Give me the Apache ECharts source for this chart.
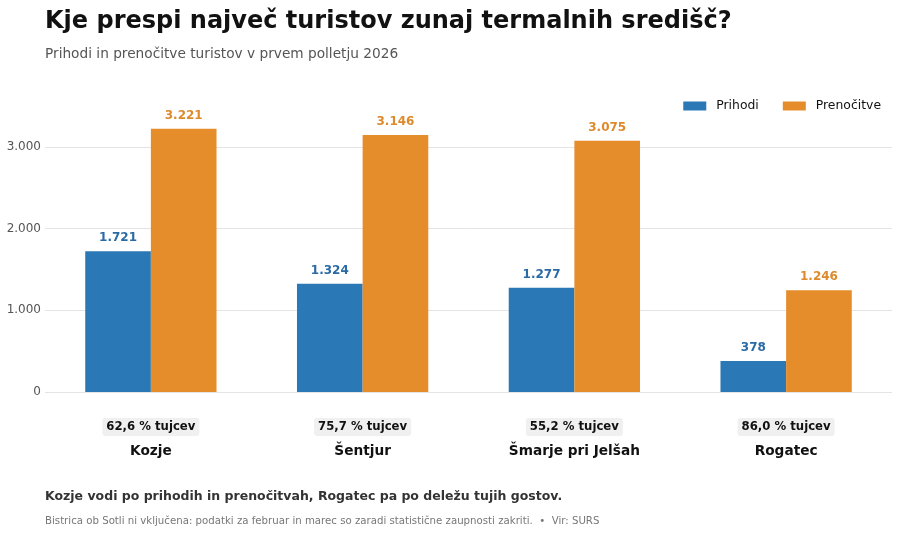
<!DOCTYPE html>
<html>
<head>
<meta charset="utf-8">
<script src="https://cdn.jsdelivr.net/npm/echarts@6/dist/echarts.min.js"></script>
<style>
  html, body { margin: 0; padding: 0; background: #fff; }
  #chart { width: 900px; height: 533px; }
</style>
</head>
<body>
<div id="chart"></div>
<script>
var kraji = ['Kozje', 'Šentjur', 'Šmarje pri Jelšah', 'Rogatec'];
var prihodi = [1721, 1324, 1277, 378];
var prenocitve = [3221, 3146, 3075, 1246];
var tujci = ['62,6', '75,7', '55,2', '86,0'];
var yTicks = [0, 1000, 2000, 3000];

function fmt(v) {
  return String(v).replace(/\B(?=(\d{3})+(?!\d))/g, '.');
}

(function () {
  var myChart = echarts.init(document.getElementById('chart'));
  var font = 'DejaVu Sans';
  var option = {
    textStyle: { fontFamily: font },
    title: [{
      text: 'Kje prespi največ turistov zunaj termalnih središč?',
      left: 40, top: 5,
      textStyle: { fontSize: 24, fontWeight: 'bold', color: '#111', fontFamily: font }
    }, {
      text: 'Prihodi in prenočitve turistov v prvem polletju 2026',
      left: 40, top: 42,
      textStyle: { fontSize: 13.7, fontWeight: 'normal', color: '#555', fontFamily: font }
    }, {
      text: 'Kozje vodi po prihodih in prenočitvah, Rogatec pa po deležu tujih gostov.',
      left: 40, top: 485,
      textStyle: { fontSize: 12.5, fontWeight: 'bold', color: '#333', fontFamily: font }
    }, {
      text: 'Bistrica ob Sotli ni vključena: podatki za februar in marec so zaradi statistične zaupnosti zakriti.  •  Vir: SURS',
      left: 40, top: 511,
      textStyle: { fontSize: 10.2, fontWeight: 'normal', color: '#777', fontFamily: font }
    }],
    legend: {
      right: 14, top: 95,
      itemWidth: 23, itemHeight: 9, itemGap: 24,
      icon: 'rect',
      textStyle: { fontSize: 12.4, color: '#111', fontFamily: font, padding: [0, 0, 0, 5] },
      data: ['Prihodi', 'Prenočitve']
    },
    grid: { left: 45, right: 8, top: 106, bottom: 141, containLabel: false },
    xAxis: {
      type: 'category',
      data: kraji,
      axisTick: { show: false },
      axisLine: { show: false },
      axisLabel: {
        margin: 24,
        interval: 0,
        formatter: function (v, i) {
          return '{pct|' + tujci[i] + ' % tujcev}\n{name|' + v + '}';
        },
        rich: {
          pct: {
            fontSize: 11.7, fontWeight: 'bold', color: '#111', fontFamily: font,
            backgroundColor: '#f0f0f0', borderRadius: 3, padding: [3, 4, 3, 4],
            lineHeight: 22
          },
          name: {
            fontSize: 13.7, fontWeight: 'bold', color: '#111', fontFamily: font,
            lineHeight: 26
          }
        }
      }
    },
    yAxis: {
      type: 'value',
      min: 0, max: 3500, interval: 1000,
      axisLine: { show: false },
      axisTick: { show: false },
      axisLabel: {
        color: '#555', fontSize: 12, margin: 4, fontFamily: font,
        showMaxLabel: false,
        formatter: function (v) { return yTicks.indexOf(v) >= 0 ? fmt(v) : ''; }
      },
      splitLine: {
        showMaxLine: false,
        lineStyle: { color: '#e4e4e4', width: 1 }
      }
    },
    series: [{
      name: 'Prihodi',
      type: 'bar',
      data: prihodi,
      barWidth: '31%',
      barGap: '0%',
      itemStyle: { color: '#2a78b5' },
      label: {
        show: true, position: 'top', distance: 7,
        color: '#2a6aa5', fontSize: 12, fontWeight: 'bold', fontFamily: font,
        formatter: function (p) { return fmt(p.value); }
      }
    }, {
      name: 'Prenočitve',
      type: 'bar',
      data: prenocitve,
      barWidth: '31%',
      barGap: '0%',
      itemStyle: { color: '#e58c2b' },
      label: {
        show: true, position: 'top', distance: 7,
        color: '#dd8a2c', fontSize: 12, fontWeight: 'bold', fontFamily: font,
        formatter: function (p) { return fmt(p.value); }
      }
    }]
  };
  myChart.setOption(option);
  window.addEventListener('resize', function () {
    myChart.resize();
  });
})();
</script>
</body>
</html>
